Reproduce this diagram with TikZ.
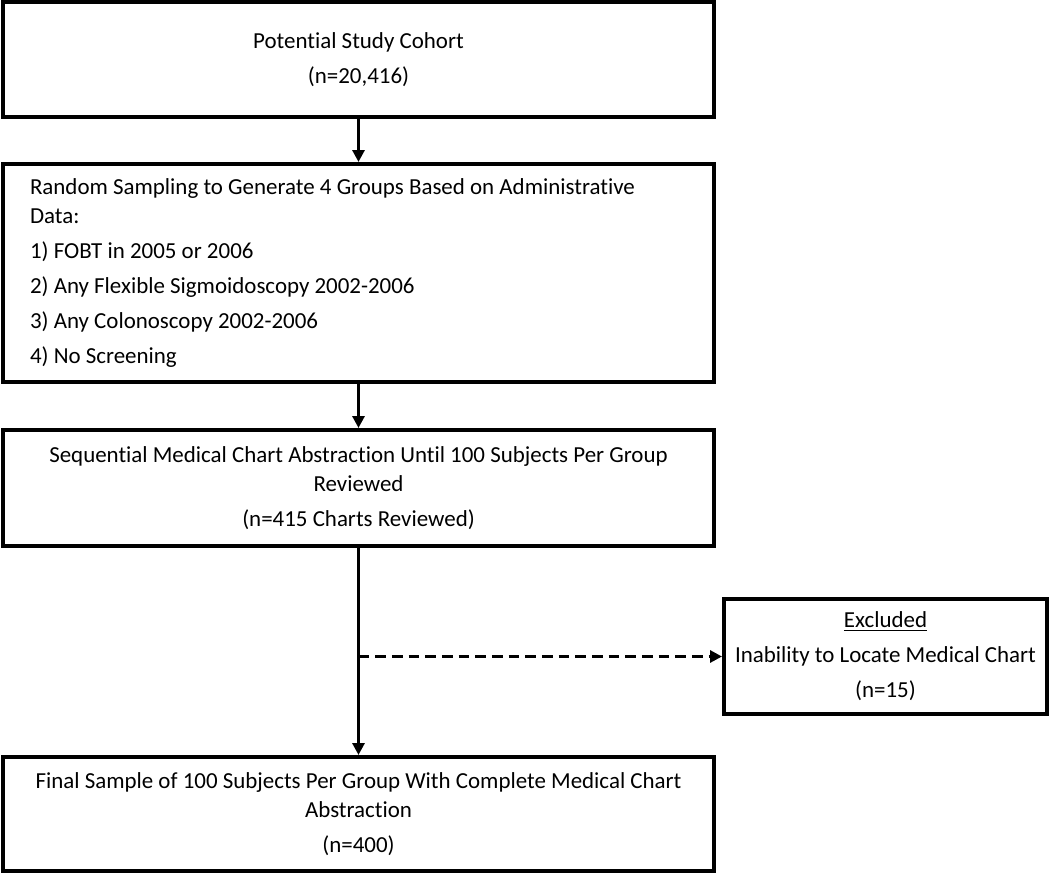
\documentclass[tikz,border=0pt]{standalone}
\usepackage{fontspec}
\setmainfont{Carlito}[Ligatures=NoCommon]
\usetikzlibrary{positioning, arrows.meta}

\begin{document}
\begin{tikzpicture}[
  x=0.75pt, y=-0.75pt,
  every node/.style={draw, line width=3pt, inner sep=0, font=\fontsize{17.2}{21.75}\selectfont},
  main box/.style={minimum width=533.25pt, align=center},
  list box/.style={text width=492.75pt, inner xsep=20.25pt, align=flush left},
  flow arrow/.style={line width=2.25pt, -{Triangle[length=9pt, width=9pt]}},
  skip arrow/.style={flow arrow, dash pattern=on 8pt off 4.5pt}
]
\useasboundingbox (0,0) rectangle (1050,874);

% main column
\node [main box, minimum height=86.25pt] (cohort) at (358.5,59.5)
  {Potential Study Cohort\\[4.5pt](n=20,416)};
\node [list box, minimum height=163.5pt] (sampling) at (358.5,273)
  {Random Sampling to Generate 4 Groups Based on Administrative\\Data:\\[4.5pt]
   1) FOBT in 2005 or 2006\\[4.5pt]
   2) Any Flexible Sigmoidoscopy 2002-2006\\[4.5pt]
   3) Any Colonoscopy 2002-2006\\[4.5pt]
   4) No Screening};
\node [main box, minimum height=87pt] (review) at (358.5,488)
  {Sequential Medical Chart Abstraction Until 100 Subjects Per Group\\Reviewed\\[4.5pt](n=415 Charts Reviewed)};
\node [main box, minimum height=85.5pt] (final) at (358.5,814)
  {Final Sample of 100 Subjects Per Group With Complete Medical Chart\\Abstraction\\[4.5pt](n=400)};

% side box
\node [align=center, minimum width=242.25pt, minimum height=86.25pt] (excluded) at (885.5,656.5)
  {\underline{Excluded}\\[4.5pt]Inability to Locate Medical Chart\\[4.5pt](n=15)};

\coordinate (split) at (review.south |- excluded.west);

\draw [flow arrow] (cohort) -- (sampling);
\draw [flow arrow] (sampling) -- (review);
\draw [flow arrow] (review) -- (final);
\draw [skip arrow] (split) -- (excluded);

\end{tikzpicture}
\end{document}
